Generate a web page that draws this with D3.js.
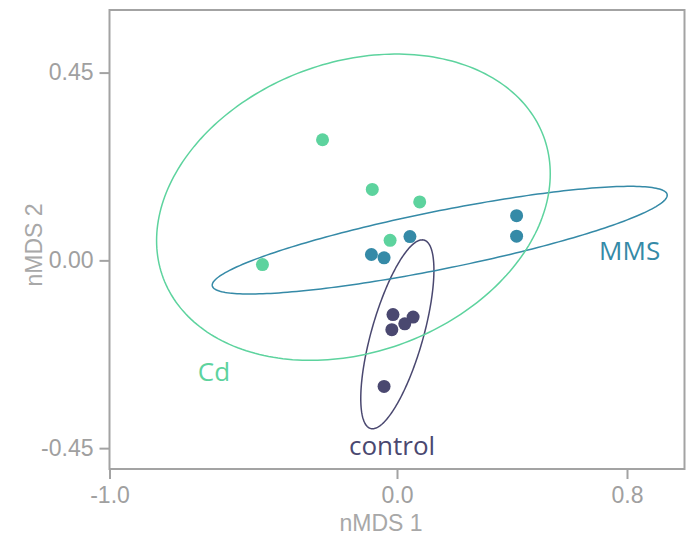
<!DOCTYPE html>
<html>
<head>
<meta charset="utf-8">
<script src="https://cdn.jsdelivr.net/npm/d3@7"></script>
<style>
  body { margin: 0; background: #fff; }
  .tick text { font-family: "Liberation Sans", Arial, sans-serif; font-size: 23px; fill: #a0a0a0; }
  .tick line { stroke: #a3a3a3; stroke-width: 2; }
  .axis-title { font-family: "Liberation Sans", Arial, sans-serif; font-size: 23px; fill: #a8a8a8; }
  .group-label { font-family: "Open Sans", sans-serif; font-size: 26px; }
</style>
</head>
<body>
<script>
const w = 689;
const h = 536;

// nMDS scores
const groups = ["control", "MMS", "Cd"];
const colors = ["#4a4870", "#358aa7", "#5dd39e"];
const cdX = [-0.259, -0.086, 0.079, -0.024, -0.468];
const cdY = [0.289, 0.170, 0.140, 0.048, -0.010];
const mmsX = [0.045, -0.089, -0.045, 0.416, 0.416];
const mmsY = [0.057, 0.014, 0.006, 0.107, 0.058];
const ctrlX = [-0.014, 0.056, -0.018, 0.027, -0.045];
const ctrlY = [-0.130, -0.136, -0.166, -0.152, -0.302];

const xTicks = [-1.0, 0.0, 0.8];
const yTicks = [-0.45, 0.00, 0.45];

// label anchors in data units
const labelX = [-0.167, 0.703, -0.693];
const labelY = [-0.467, 0.0, -0.288];

// ellipse radius (in sd units) of the group ellipses
const ellipseR = 3.18;

const series = [
    { name: "control", xs: ctrlX, ys: ctrlY },
    { name: "MMS", xs: mmsX, ys: mmsY },
    { name: "Cd", xs: cdX, ys: cdY }
];

const svg = d3.select("body")
    .append("svg")
    .attr("width", w)
    .attr("height", h);

const xScale = d3.scaleLinear().domain([-1, 1]).range([109.5, 684.5]);
const yScale = d3.scaleLinear().domain([-0.5, 0.6]).range([469, 10]);
const color = d3.scaleOrdinal().domain(groups).range(colors);

// panel border
svg.append("rect")
    .attr("x", xScale(-1))
    .attr("y", yScale(0.6))
    .attr("width", xScale(1) - xScale(-1))
    .attr("height", yScale(-0.5) - yScale(0.6))
    .attr("fill", "none")
    .attr("stroke", "#a3a3a3")
    .attr("stroke-width", 2);

const xAxis = d3.axisBottom(xScale).tickValues(xTicks).tickSize(10).tickSizeOuter(0).tickPadding(8)
    .tickFormat(d => d.toFixed(1));
const yAxis = d3.axisLeft(yScale).tickValues(yTicks).tickSize(10).tickSizeOuter(0).tickPadding(6)
    .tickFormat(d => d.toFixed(2));

svg.append("g")
    .attr("transform", "translate(0," + yScale(-0.5) + ")")
    .call(xAxis)
    .call(g => g.select(".domain").remove());
svg.append("g")
    .attr("transform", "translate(" + xScale(-1) + ",0)")
    .call(yAxis)
    .call(g => g.select(".domain").remove());

svg.append("text")
    .attr("class", "axis-title")
    .attr("x", 381)
    .attr("y", 531)
    .attr("text-anchor", "middle")
    .text("nMDS 1");

svg.append("text")
    .attr("class", "axis-title")
    .attr("transform", "translate(42,245) rotate(-90)")
    .attr("text-anchor", "middle")
    .text("nMDS 2");

// ellipse from mean and covariance of each group
function ellipsePoints(xs, ys) {
    const n = xs.length;
    const mx = d3.mean(xs), my = d3.mean(ys);
    let sxx = 0, syy = 0, sxy = 0;
    for (let i = 0; i < n; i++) {
        sxx += (xs[i] - mx) * (xs[i] - mx);
        syy += (ys[i] - my) * (ys[i] - my);
        sxy += (xs[i] - mx) * (ys[i] - my);
    }
    sxx /= n - 1; syy /= n - 1; sxy /= n - 1;
    // cholesky
    const l11 = Math.sqrt(sxx);
    const l21 = sxy / l11;
    const l22 = Math.sqrt(syy - l21 * l21);
    const pts = [];
    for (let k = 0; k < 240; k++) {
        const t = 2 * Math.PI * k / 240;
        const c = Math.cos(t), s = Math.sin(t);
        pts.push([mx + ellipseR * l11 * c, my + ellipseR * (l21 * c + l22 * s)]);
    }
    return pts;
}

const line = d3.line()
    .x(d => xScale(d[0]))
    .y(d => yScale(d[1]))
    .curve(d3.curveLinearClosed);

series.forEach(function (s) {
    svg.append("path")
        .attr("d", line(ellipsePoints(s.xs, s.ys)))
        .attr("fill", "none")
        .attr("stroke", color(s.name))
        .attr("stroke-width", 1.5);
});

series.forEach(function (s) {
    svg.selectAll(".dot-" + s.name)
        .data(d3.zip(s.xs, s.ys))
        .enter()
        .append("circle")
        .attr("class", "dot-" + s.name)
        .attr("cx", d => xScale(d[0]))
        .attr("cy", d => yScale(d[1]))
        .attr("r", 6.5)
        .attr("fill", color(s.name));
});

groups.forEach(function (g, i) {
    svg.append("text")
        .attr("class", "group-label")
        .attr("x", xScale(labelX[i]))
        .attr("y", yScale(labelY[i]))
        .attr("fill", color(g))
        .text(g);
});
</script>
</body>
</html>
